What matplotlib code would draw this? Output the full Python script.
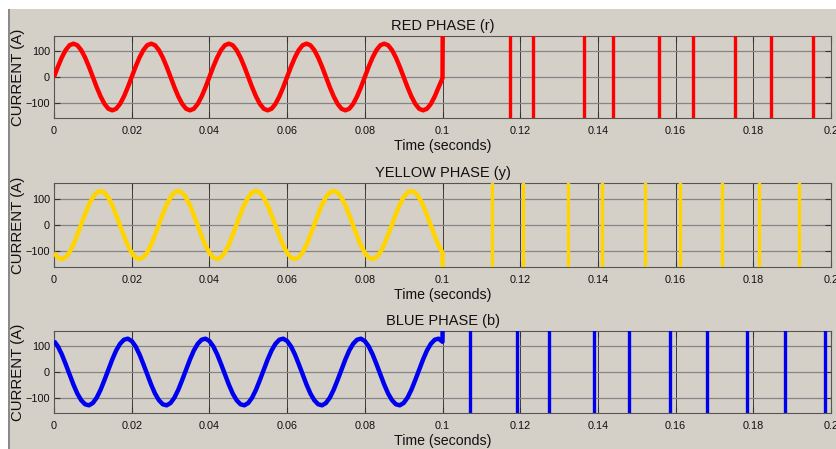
import numpy as np
import matplotlib
matplotlib.use("Agg")
import matplotlib.pyplot as plt
from matplotlib.patches import Rectangle

plt.rcParams['font.family'] = ['Liberation Sans', 'DejaVu Sans']

# time samples before the fault (1 ms step), seconds
t_pre = np.linspace(0, 0.1, 101)

# phase currents (A), one row per 20 ms cycle
red_i = [0, 40, 76, 105, 124, 130, 124, 105, 76, 40, 0, -40, -76, -105, -124, -130, -124, -105, -76, -40,
         0, 40, 76, 105, 124, 130, 124, 105, 76, 40, 0, -40, -76, -105, -124, -130, -124, -105, -76, -40,
         0, 40, 76, 105, 124, 130, 124, 105, 76, 40, 0, -40, -76, -105, -124, -130, -124, -105, -76, -40,
         0, 40, 76, 105, 124, 130, 124, 105, 76, 40, 0, -40, -76, -105, -124, -130, -124, -105, -76, -40,
         0, 40, 76, 105, 124, 130, 124, 105, 76, 40, 0, -40, -76, -105, -124, -130, -124, -105, -76, -40,
         -5]
yellow_i = [-106, -124, -130, -123, -104, -75, -38, 2, 42, 78, 106, 124, 130, 123, 104, 75, 38, -2, -42, -78,
            -106, -124, -130, -123, -104, -75, -38, 2, 42, 78, 106, 124, 130, 123, 104, 75, 38, -2, -42, -78,
            -106, -124, -130, -123, -104, -75, -38, 2, 42, 78, 106, 124, 130, 123, 104, 75, 38, -2, -42, -78,
            -106, -124, -130, -123, -104, -75, -38, 2, 42, 78, 106, 124, 130, 123, 104, 75, 38, -2, -42, -78,
            -106, -124, -130, -123, -104, -75, -38, 2, 42, 78, 106, 124, 130, 123, 104, 75, 38, -2, -42, -78,
            -106]
blue_i = [121, 100, 69, 31, -9, -49, -84, -110, -126, -130, -121, -100, -69, -31, 9, 49, 84, 110, 126, 130,
          121, 100, 69, 31, -9, -49, -84, -110, -126, -130, -121, -100, -69, -31, 9, 49, 84, 110, 126, 130,
          121, 100, 69, 31, -9, -49, -84, -110, -126, -130, -121, -100, -69, -31, 9, 49, 84, 110, 126, 130,
          121, 100, 69, 31, -9, -49, -84, -110, -126, -130, -121, -100, -69, -31, 9, 49, 84, 110, 126, 130,
          121, 100, 69, 31, -9, -49, -84, -110, -126, -130, -121, -100, -69, -31, 9, 49, 84, 110, 126, 130,
          118]

# jump right after the fault (off-scale)
jump_t = 0.1006
red_jump = 2000
yellow_jump = -2000
blue_jump = 2000

# off-scale swings after the fault, times of each full-range crossing (s)
red_spikes = [0.1173, 0.1232, 0.1363, 0.1439, 0.1557, 0.1644, 0.1754, 0.1846, 0.1953]
yellow_spikes = [0.1127, 0.1207, 0.1323, 0.1410, 0.1522, 0.1612, 0.1719, 0.1814, 0.1918]
blue_spikes = [0.1070, 0.1193, 0.1275, 0.1389, 0.1479, 0.1586, 0.1681, 0.1785, 0.1881, 0.1985]

titles = ["RED PHASE (r)", "YELLOW PHASE (y)", "BLUE PHASE (b)"]
colors = ["#ff0000", "#ffd400", "#0000f0"]
x_ticks = [0, 0.02, 0.04, 0.06, 0.08, 0.1, 0.12, 0.14, 0.16, 0.18, 0.2]
x_labels = ["0", "0.02", "0.04", "0.06", "0.08", "0.1", "0.12", "0.14", "0.16", "0.18", "0.2"]
y_ticks = [-100, 0, 100]

bg = "#d4d0c8"
W, H = 836, 449
fig = plt.figure(figsize=(W / 100, H / 100), dpi=100, facecolor=bg)

# white margins of the screenshot
fig.patches.append(Rectangle((0, 1 - 9 / H), 1, 9 / H, transform=fig.transFigure,
                             facecolor="white", edgecolor="none", zorder=0))
fig.patches.append(Rectangle((0, 0), 8 / W, 1, transform=fig.transFigure,
                             facecolor="white", edgecolor="none", zorder=0))
fig.patches.append(Rectangle((8 / W, 0), 2 / W, 1 - 9 / H, transform=fig.transFigure,
                             facecolor="#8a8a8a", edgecolor="none", zorder=0))

# axes boxes in pixels: (top, bottom)
boxes = [(36, 118), (183, 267), (331, 413)]
left, right = 54, 831

series = [(red_i, red_jump, red_spikes), (yellow_i, yellow_jump, yellow_spikes),
          (blue_i, blue_jump, blue_spikes)]

for k, (top, bot) in enumerate(boxes):
    ax = fig.add_axes([left / W, 1 - bot / H, (right - left) / W, (bot - top) / H])
    ax.set_facecolor(bg)
    vals, jump, spikes = series[k]
    xs = list(t_pre) + [jump_t]
    ys = list(vals) + [jump]
    ax.plot(xs, ys, color=colors[k], lw=3.2, solid_capstyle="butt", zorder=3)
    ax.vlines(spikes, -2000, 2000, color=colors[k], lw=2.4, zorder=3)
    ax.set_xlim(0, 0.2)
    ax.set_ylim(-160, 160)
    ax.set_xticks(x_ticks)
    ax.set_xticklabels(x_labels)
    ax.set_yticks(y_ticks)
    ax.xaxis.grid(True, color="#3c3c3c", lw=0.7)
    ax.yaxis.grid(True, color="#858585", lw=0.9)
    ax.set_axisbelow(True)
    ax.tick_params(direction="in", length=4, labelsize=7.8, colors="#333333",
                   labelcolor="#111111", top=True, right=True, pad=5.5)
    ax.tick_params(axis="y", pad=3)
    for s in ax.spines.values():
        s.set_color("#555555")
        s.set_linewidth(0.8)
    ax.set_title(titles[k], fontsize=10.5, pad=4, color="#111111")
    ax.set_xlabel("Time (seconds)", fontsize=10.2, labelpad=2.5, color="#111111")
    ax.set_ylabel("CURRENT (A)", fontsize=10.8, labelpad=0, color="#111111")

plt.savefig("out.png", dpi=100, facecolor=bg)
